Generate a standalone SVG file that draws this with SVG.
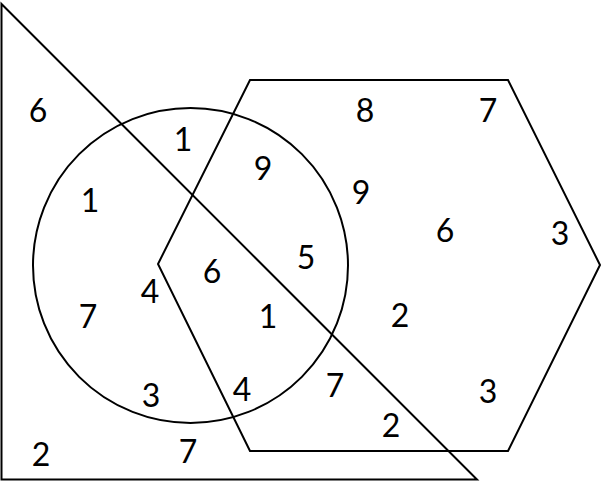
<svg xmlns="http://www.w3.org/2000/svg" width="603" height="500" viewBox="0 0 603 500">
<style>
.s{fill:none;stroke:#000;stroke-width:2}
text{font-family:Lato,"Liberation Sans",Arial,sans-serif;font-size:32px;fill:#000;text-anchor:middle}
</style>
<rect width="603" height="500" fill="#fff"/>
<g id="triangle"><polygon class="s" points="1.5,4 1.5,479.5 477,479.5"/></g>
<g id="circle"><circle class="s" cx="190.5" cy="265.5" r="157.5"/></g>
<g id="hexagon"><polygon class="s" points="250,80 508,80 600,265 508,451 250,451 158,264"/></g>
<g id="labels">
<text x="38" y="122">6</text>
<text x="183" y="151">1</text>
<text x="263" y="180">9</text>
<text x="90" y="212">1</text>
<text x="365" y="122">8</text>
<text x="488" y="122">7</text>
<text x="361" y="204">9</text>
<text x="445" y="242">6</text>
<text x="560" y="245">3</text>
<text x="306" y="269">5</text>
<text x="212" y="283">6</text>
<text x="150" y="303">4</text>
<text x="88" y="328">7</text>
<text x="268" y="328">1</text>
<text x="400" y="327">2</text>
<text x="151" y="407">3</text>
<text x="242" y="401">4</text>
<text x="335" y="397">7</text>
<text x="488" y="403">3</text>
<text x="391" y="437">2</text>
<text x="41" y="466">2</text>
<text x="188" y="463">7</text>
</g>
</svg>
